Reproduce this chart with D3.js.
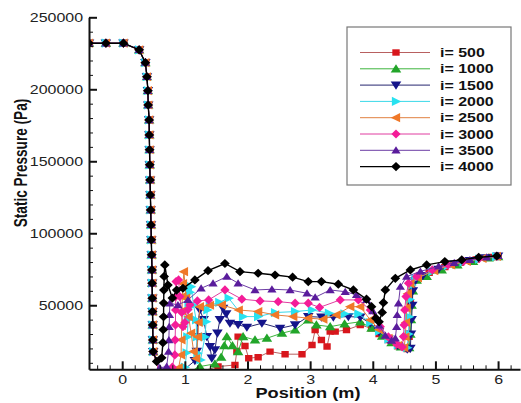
<!DOCTYPE html>
<html>
<head>
<meta charset="utf-8">
<script src="https://cdn.jsdelivr.net/npm/d3@7/dist/d3.min.js"></script>
<style>
  body { margin: 0; background: #fff; }
  text { font-family: "Liberation Sans", Arial, sans-serif; }
</style>
</head>
<body>
<svg id="chart" width="521" height="403"></svg>
<script>
// shared part: reservoir plateau and first drop (all iterations lie on it)
const inletPts = [
  [-0.53, 232000], [-0.26, 232000], [0.02, 232000], [0.27, 227400], [0.37, 218500],
  [0.395, 208700], [0.41, 199000], [0.415, 189100], [0.43, 178700], [0.433, 168300],
  [0.437, 158000], [0.44, 147500], [0.445, 137000], [0.45, 126600], [0.455, 116200],
  [0.46, 105800], [0.465, 95400], [0.47, 85000], [0.475, 74500], [0.478, 65300],
  [0.481, 54900], [0.484, 45600], [0.487, 36300], [0.49, 25900], [0.495, 17800]
];

const iter500 = [
  [0.6, 2000], [1.1, 2000], [1.53, 7400], [1.80, 8500], [1.83, 18000], [1.85, 28200],
  [1.96, 21700], [2.02, 13200], [2.17, 13900], [2.36, 17800], [2.6, 16000], [2.87, 16000],
  [3.03, 22400], [3.08, 32800], [3.18, 25900], [3.27, 21300], [3.32, 31700], [3.40, 31700],
  [3.58, 32800], [3.80, 36300], [3.98, 34000], [4.1, 30000], [4.25, 25900], [4.4, 21500],
  [4.55, 19500], [4.58, 28000], [4.59, 40000], [4.6, 52000], [4.62, 62000], [4.67, 67500],
  [4.9, 72500], [5.15, 76500], [5.4, 79500], [5.65, 81800], [5.9, 83500], [6.0, 84000]
];
const iter1000 = [
  [0.6, 2000], [1.0, 2000], [1.24, 7400], [1.48, 9300], [1.58, 14000], [1.63, 22000],
  [1.67, 28200], [1.76, 22000], [1.85, 17800], [1.93, 28200], [2.12, 25900], [2.31, 27100],
  [2.55, 30600], [2.76, 32800], [2.97, 39800], [3.1, 36300], [3.32, 35100], [3.55, 37000],
  [3.8, 38500], [3.98, 34000], [4.15, 28500], [4.3, 24000], [4.45, 21000], [4.58, 20500],
  [4.6, 30000], [4.61, 40000], [4.62, 50000], [4.64, 60000], [4.7, 67500], [4.86, 70000],
  [5.1, 74500], [5.35, 78000], [5.6, 80500], [5.85, 82800], [6.0, 83800]
];
const iter1500 = [
  [0.6, 2000], [0.9, 2000], [1.16, 11500], [1.19, 18000], [1.2, 28000], [1.21, 38000],
  [1.24, 46700], [1.3, 40000], [1.35, 28200], [1.4, 21300], [1.43, 13200], [1.48, 19000],
  [1.52, 30600], [1.56, 40000], [1.61, 47900], [1.66, 44000], [1.72, 37500], [1.85, 36500],
  [1.99, 34700], [2.23, 37500], [2.52, 34000], [2.76, 36300], [2.97, 42100], [3.18, 41700],
  [3.37, 41700], [3.61, 42100], [3.80, 41700], [3.96, 37500], [4.1, 31500], [4.25, 26500],
  [4.4, 22000], [4.55, 19500], [4.6, 20000], [4.61, 30000], [4.62, 40000], [4.63, 50000],
  [4.64, 60000], [4.68, 67000], [4.8, 70500], [5.05, 75000], [5.3, 78500], [5.55, 81000],
  [5.8, 83000], [6.0, 84200]
];
const iter2000 = [
  [0.6, 2000], [0.8, 2000], [1.0, 7000], [1.03, 17000], [1.04, 28000], [1.05, 40000],
  [1.06, 50000], [1.08, 59000], [1.10, 62900], [1.14, 50000], [1.18, 39800], [1.19, 28000],
  [1.2, 16700], [1.25, 12000], [1.32, 28000], [1.34, 38600], [1.36, 46700], [1.40, 50000],
  [1.55, 52000], [1.70, 54900], [1.93, 42100], [2.17, 42100], [2.44, 44900], [2.76, 45600],
  [3.03, 46700], [3.3, 44500], [3.55, 44000], [3.77, 44000], [3.96, 38000], [4.1, 32000],
  [4.25, 26500], [4.4, 22500], [4.55, 20500], [4.57, 30000], [4.58, 42000], [4.59, 54000],
  [4.62, 64000], [4.68, 68500], [4.95, 73500], [5.2, 77500], [5.45, 80000], [5.7, 82000],
  [5.97, 83800]
];
const iter2500 = [
  [0.6, 2000], [0.9, 6500], [0.94, 15500], [0.945, 26000], [0.95, 36000], [0.955, 46000],
  [0.96, 56000], [0.97, 65000], [0.985, 73300], [1.02, 55000], [1.06, 42000], [1.1, 30600],
  [1.14, 17800], [1.18, 13000], [1.21, 28000], [1.22, 38000], [1.24, 49000], [1.4, 50000],
  [1.59, 50200], [1.86, 46700], [2.17, 45600], [2.44, 43300], [2.73, 42100], [2.97, 41000],
  [3.21, 40300], [3.42, 43300], [3.64, 49000], [3.80, 49000], [3.96, 39800], [4.1, 33000],
  [4.25, 27000], [4.4, 22000], [4.5, 20500], [4.52, 28000], [4.53, 38000], [4.54, 48000],
  [4.56, 58000], [4.6, 65000], [4.72, 69000], [4.98, 74000], [5.25, 78000], [5.5, 80500],
  [5.75, 82500], [5.98, 84000]
];
const iter3000 = [
  [0.6, 2000], [0.8, 7000], [0.84, 15500], [0.845, 25900], [0.85, 36300], [0.852, 46700],
  [0.855, 56000], [0.86, 66400], [0.9, 67600], [0.92, 56000], [0.95, 45000], [0.97, 35100],
  [1.0, 38000], [1.05, 47000], [1.08, 50200], [1.2, 53000], [1.38, 53700], [1.64, 60600],
  [1.91, 54200], [2.2, 53000], [2.49, 52500], [2.76, 51400], [2.97, 51400], [3.15, 48500],
  [3.48, 53700], [3.77, 53700], [3.96, 46700], [4.12, 35100], [4.25, 28000], [4.38, 23000],
  [4.47, 21000], [4.49, 28200], [4.5, 36300], [4.51, 46700], [4.53, 56000], [4.57, 65300],
  [4.7, 70000], [4.95, 74500], [5.2, 78000], [5.45, 80500], [5.7, 82500], [5.98, 84000]
];
const iter3500 = [
  [0.6, 6500], [0.71, 7400], [0.74, 17800], [0.745, 25900], [0.75, 35100], [0.755, 43300],
  [0.76, 51400], [0.89, 50200], [1.05, 53700], [1.26, 61800], [1.45, 65300], [1.67, 69900],
  [1.85, 65300], [2.12, 60600], [2.39, 61100], [2.68, 60600], [2.95, 58300], [3.08, 55500],
  [3.32, 60600], [3.56, 59400], [3.74, 57200], [3.90, 53700], [4.0, 46000], [4.1, 36000],
  [4.2, 29000], [4.3, 25500], [4.36, 27000], [4.38, 35100], [4.39, 43300], [4.41, 51400],
  [4.44, 62900], [4.54, 69900], [4.76, 73500], [5.05, 77000], [5.3, 79500], [5.55, 81500],
  [5.82, 83300], [6.0, 84300]
];
const iter4000 = [
  [0.55, 11000], [0.63, 13500], [0.65, 24000], [0.655, 33000], [0.66, 42000], [0.662, 51500],
  [0.665, 60500], [0.67, 70000], [0.68, 78000], [0.73, 64000], [0.8, 55000], [0.87, 60500],
  [0.97, 61800], [1.16, 67600], [1.37, 74000], [1.64, 79000], [1.88, 73300], [2.17, 72200],
  [2.44, 71000], [2.72, 69500], [2.97, 66400], [3.18, 66400], [3.45, 64600], [3.69, 60600],
  [3.90, 54200], [3.98, 49000], [4.05, 41000], [4.1, 38500], [4.15, 45000], [4.17, 51800],
  [4.20, 60600], [4.36, 68700], [4.60, 74500], [4.86, 78000], [5.15, 80300], [5.42, 81500],
  [5.69, 83300], [5.98, 84200]
];

const seriesLabels = ["i= 500", "i= 1000", "i= 1500", "i= 2000", "i= 2500", "i= 3000", "i= 3500", "i= 4000"];
const seriesData = [iter500, iter1000, iter1500, iter2000, iter2500, iter3000, iter3500, iter4000];
const markerColors = ["#d8161c", "#22a52a", "#14148a", "#28e2f0", "#f07828", "#f41c98", "#5a1c9c", "#000000"];
const lineColors = ["#b86060", "#3cb43c", "#262670", "#3ad8e8", "#e08040", "#e03ca0", "#6c3ca4", "#000000"];
const markerKinds = ["square", "triUp", "triDown", "triRight", "triLeft", "diamond", "triUpSmall", "diamondBlack"];

const xMajorTicks = [0, 1, 2, 3, 4, 5, 6];
const yMajorTicks = [50000, 100000, 150000, 200000, 250000];

const svg = d3.select("#chart");
const stretch = 1.33; // source picture is stretched horizontally

const x = d3.scaleLinear().domain([-0.53, 6.35]).range([89, 520]);
const y = d3.scaleLinear().domain([5500, 250000]).range([369.3, 17.3]);

function markerPath(kind) {
  switch (kind) {
    case "square": return "M-3.2,-3.2h6.4v6.4h-6.4z";
    case "triUp": return "M0,-4.6L4.6,3.6L-4.6,3.6Z";
    case "triDown": return "M0,4.6L4.6,-3.6L-4.6,-3.6Z";
    case "triRight": return "M4.6,0L-3.6,4.6L-3.6,-4.6Z";
    case "triLeft": return "M-4.6,0L3.6,4.6L3.6,-4.6Z";
    case "diamond": return "M0,-4.6L4,0L0,4.6L-4,0Z";
    case "triUpSmall": return "M0,-4L4,3.2L-4,3.2Z";
    default: return "M0,-4.6L4.2,0L0,4.6L-4.2,0Z";
  }
}

svg.append("clipPath").attr("id", "plotClip")
  .append("rect").attr("x", 89).attr("y", 10).attr("width", 432).attr("height", 359.3);

// data
const plot = svg.append("g").attr("clip-path", "url(#plotClip)");
const line = d3.line().x(d => x(d[0])).y(d => y(d[1]));

seriesData.forEach((pts, i) => {
  const all = inletPts.concat(pts);
  const g = plot.append("g");
  g.append("path")
    .datum(all)
    .attr("d", line)
    .attr("fill", "none")
    .attr("stroke", lineColors[i])
    .attr("stroke-width", i === 7 ? 1.4 : 1);
  g.selectAll("path.mk")
    .data(all)
    .join("path")
    .attr("class", "mk")
    .attr("d", markerPath(markerKinds[i]))
    .attr("transform", d => `translate(${x(d[0])},${y(d[1])}) scale(1.15,1)`)
    .attr("fill", markerColors[i]);
});

// axes
const xMinor = d3.range(-0.4, 6.3, 0.2).filter(v => Math.abs(v - Math.round(v)) > 0.01);
const yMinor = d3.range(10000, 250000, 10000).filter(v => v % 50000 !== 0);

svg.append("g")
  .attr("transform", `translate(0,${y.range()[0]})`)
  .call(d3.axisBottom(x).tickValues(xMinor).tickSize(-4).tickSizeOuter(0).tickFormat(""))
  .call(g => g.select(".domain").remove())
  .call(g => g.selectAll("line").attr("stroke", "#111").attr("stroke-width", 1));

svg.append("g")
  .attr("transform", `translate(${x.range()[0]},0)`)
  .call(d3.axisLeft(y).tickValues(yMinor).tickSize(-4).tickSizeOuter(0).tickFormat(""))
  .call(g => g.select(".domain").remove())
  .call(g => g.selectAll("line").attr("stroke", "#111").attr("stroke-width", 1));

const xAxis = svg.append("g")
  .attr("transform", `translate(0,${y.range()[0]})`)
  .call(d3.axisBottom(x).tickValues(xMajorTicks).tickSize(-8).tickSizeOuter(0).tickPadding(6).tickFormat(d3.format("d")));

const yAxis = svg.append("g")
  .attr("transform", `translate(${x.range()[0]},0)`)
  .call(d3.axisLeft(y).tickValues(yMajorTicks).tickSize(-8).tickSizeOuter(0).tickPadding(5).tickFormat(d3.format("d")));

[xAxis, yAxis].forEach(ax => {
  ax.select(".domain").attr("stroke", "#111").attr("stroke-width", 2);
  ax.selectAll(".tick line").attr("stroke", "#111").attr("stroke-width", 2);
  ax.selectAll(".tick text")
    .attr("fill", "#222")
    .style("font-size", "12px")
    .attr("transform", `scale(${stretch},1)`);
});
yAxis.selectAll(".tick text").attr("x", -6 / stretch);

// axis titles
svg.append("text")
  .attr("transform", `translate(308,398) scale(1.3,1)`)
  .attr("text-anchor", "middle")
  .style("font-size", "14px")
  .style("font-weight", "bold")
  .attr("fill", "#111")
  .text("Position (m)");

svg.append("text")
  .attr("transform", "translate(27,163) scale(1.3,1) rotate(-90)")
  .attr("text-anchor", "middle")
  .style("font-size", "13.6px")
  .style("font-weight", "bold")
  .attr("fill", "#111")
  .text("Static Pressure (Pa)");

// legend
const legend = svg.append("g");
legend.append("rect")
  .attr("x", 347).attr("y", 27).attr("width", 164).attr("height", 158)
  .attr("fill", "#fff").attr("stroke", "#777").attr("stroke-width", 1.2);

seriesLabels.forEach((label, i) => {
  const ly = 52.5 + i * 16.3;
  legend.append("line")
    .attr("x1", 360).attr("x2", 430).attr("y1", ly).attr("y2", ly)
    .attr("stroke", lineColors[i]).attr("stroke-width", i === 7 ? 1.4 : 1);
  legend.append("path")
    .attr("d", markerPath(markerKinds[i]))
    .attr("transform", `translate(396,${ly}) scale(1.15,1)`)
    .attr("fill", markerColors[i]);
  legend.append("text")
    .attr("transform", `translate(440,${ly + 4.5}) scale(1.33,1)`)
    .style("font-size", "12px")
    .style("font-weight", "bold")
    .attr("fill", "#111")
    .text(label);
});
</script>
</body>
</html>
